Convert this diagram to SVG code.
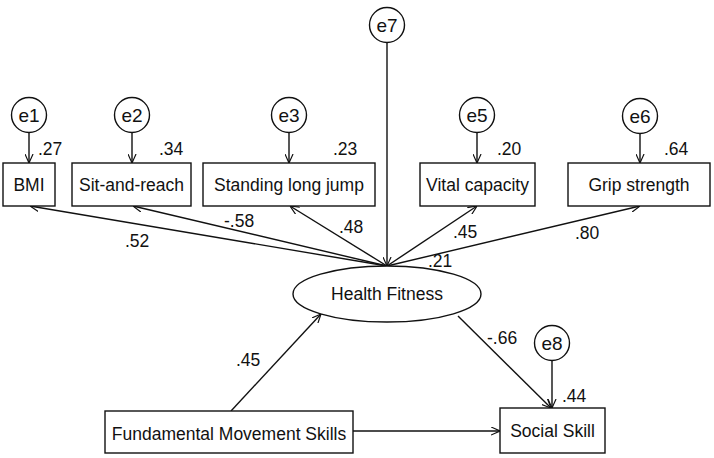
<svg xmlns="http://www.w3.org/2000/svg" width="714" height="458" viewBox="0 0 714 458">
<defs>
<marker id="arr" viewBox="0 0 10 10" refX="10" refY="5" markerWidth="9" markerHeight="9" markerUnits="userSpaceOnUse" orient="auto">
<path d="M0,0.5 L10,5 L0,9.5" fill="none" stroke="#111" stroke-width="1.3"/>
</marker>
</defs>
<style>
.box{fill:#fff;stroke:#111;stroke-width:1.4}
.err{fill:#fff;stroke:#111;stroke-width:1.4}
.t{font-family:"Liberation Sans",Arial,sans-serif;font-size:17.5px;fill:#111}
.e{font-size:19px}
.c{text-anchor:middle}
.ln{stroke:#111;stroke-width:1.4;fill:none;marker-end:url(#arr)}
</style>
<rect width="714" height="458" fill="#fff"/>
<g id="connectors">
<line class="ln" x1="29" y1="132" x2="29" y2="163"/>
<line class="ln" x1="132" y1="132" x2="132" y2="163"/>
<line class="ln" x1="289" y1="132" x2="289" y2="163"/>
<line class="ln" x1="477" y1="132" x2="477" y2="163"/>
<line class="ln" x1="640" y1="133" x2="640" y2="163"/>
<line class="ln" x1="387" y1="42" x2="387" y2="266"/>
<line class="ln" x1="552" y1="360" x2="552" y2="408"/>
<line class="ln" x1="387" y1="266" x2="30" y2="206"/>
<line class="ln" x1="387" y1="266" x2="133" y2="206"/>
<line class="ln" x1="387" y1="266" x2="290" y2="206"/>
<line class="ln" x1="387" y1="266" x2="477" y2="206"/>
<line class="ln" x1="387" y1="266" x2="640" y2="206"/>
<line class="ln" x1="231" y1="411" x2="321" y2="314"/>
<line class="ln" x1="458" y1="316" x2="551" y2="408"/>
<line class="ln" x1="353" y1="431" x2="500" y2="431"/>
</g>
<g id="labels">
<text class="t" x="38" y="155">.27</text>
<text class="t" x="159" y="155">.34</text>
<text class="t" x="333" y="155">.23</text>
<text class="t" x="497" y="155">.20</text>
<text class="t" x="664" y="155">.64</text>
<text class="t" x="125" y="247">.52</text>
<text class="t" x="224" y="227">-.58</text>
<text class="t" x="339" y="233">.48</text>
<text class="t" x="453" y="238">.45</text>
<text class="t" x="575" y="239">.80</text>
<text class="t" x="428" y="267">.21</text>
<text class="t" x="236" y="366">.45</text>
<text class="t" x="487" y="344">-.66</text>
<text class="t" x="562" y="402">.44</text>
</g>
<g id="e1"><circle class="err" cx="29" cy="115" r="17.5"/><text class="t e c" x="29" y="122">e1</text></g>
<g id="e2"><circle class="err" cx="132" cy="115" r="17.5"/><text class="t e c" x="132" y="122">e2</text></g>
<g id="e3"><circle class="err" cx="289" cy="115" r="17.5"/><text class="t e c" x="289" y="122">e3</text></g>
<g id="e5"><circle class="err" cx="477" cy="115" r="17.5"/><text class="t e c" x="477" y="122">e5</text></g>
<g id="e6"><circle class="err" cx="640" cy="116" r="17.5"/><text class="t e c" x="640" y="123">e6</text></g>
<g id="e7"><circle class="err" cx="387" cy="25" r="17.5"/><text class="t e c" x="387" y="32">e7</text></g>
<g id="e8"><circle class="err" cx="552" cy="343" r="17.5"/><text class="t e c" x="552" y="350">e8</text></g>
<g id="bmi"><rect class="box" x="3" y="163" width="52" height="43"/><text class="t c" x="29" y="191">BMI</text></g>
<g id="sit"><rect class="box" x="72" y="163" width="119" height="43"/><text class="t c" x="131.5" y="191">Sit-and-reach</text></g>
<g id="jump"><rect class="box" x="203" y="163" width="172" height="43"/><text class="t c" x="289" y="191">Standing long jump</text></g>
<g id="vital"><rect class="box" x="420" y="163" width="115" height="43"/><text class="t c" x="477.5" y="191">Vital capacity</text></g>
<g id="grip"><rect class="box" x="568" y="163" width="142" height="43"/><text class="t c" x="639" y="191">Grip strength</text></g>
<g id="health"><ellipse class="box" cx="387" cy="294" rx="94" ry="28"/><text class="t c" x="387" y="300">Health Fitness</text></g>
<g id="fms"><rect class="box" x="105" y="411" width="248" height="42"/><text class="t c" x="229" y="440">Fundamental Movement Skills</text></g>
<g id="social"><rect class="box" x="500" y="408" width="105" height="45"/><text class="t c" x="552.5" y="437">Social Skill</text></g>
</svg>
